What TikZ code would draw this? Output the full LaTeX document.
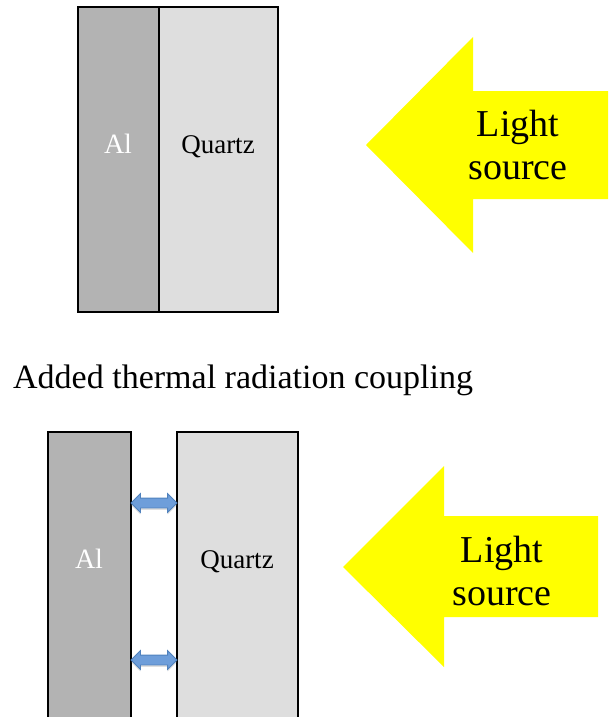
\documentclass[tikz,border=0pt]{standalone}
\usepackage{fontspec}
\setmainfont{Liberation Serif}
\usetikzlibrary{shapes.arrows,shadows}
\definecolor{alfill}{RGB}{179,179,179}
\definecolor{qzfill}{RGB}{222,222,222}
\definecolor{lightyel}{RGB}{255,255,0}
\definecolor{blfill}{RGB}{110,158,218}
\definecolor{bldraw}{RGB}{79,129,189}
\begin{document}
\begin{tikzpicture}[x=1pt,y=-1pt,
  alblock/.style={draw=black,line width=2pt,fill=alfill,inner sep=0pt},
  qzblock/.style={draw=black,line width=2pt,fill=qzfill,inner sep=0pt},
  yelarrow/.style={fill=lightyel,draw=none},
  biarrow/.style={double arrow,fill=blfill,draw=bldraw,line width=0.8pt,
    minimum height=46pt,minimum width=18pt,inner sep=4.5pt,
    double arrow head extend=4.5pt,
    drop shadow={opacity=0.25,shadow xshift=0pt,shadow yshift=-2pt}},
  altext/.style={font=\fontsize{28}{30}\selectfont,text=white,anchor=base},
  qztext/.style={font=\fontsize{27}{30}\selectfont,anchor=base},
  lstext/.style={font=\fontsize{38}{43}\selectfont,align=center,inner sep=0pt}]
\useasboundingbox (0,0) rectangle (608,717);
% top panel
\draw[alblock] (78,7) rectangle (159,312);
\draw[qzblock] (159,7) rectangle (278,312);
\node[altext] (al1) at (118,153) {Al};
\node[qztext] (q1) at (218,153) {Quartz};
\fill[yelarrow] (366,145) -- (473,37) -- (473,91) -- (608,91) -- (608,199) -- (473,199) -- (473,253) -- cycle;
\node[lstext] (ls1) at (518,145.5) {Light\\source};
% caption
\node[font=\fontsize{34}{40}\selectfont,anchor=base west,inner sep=0pt] (cap) at (13,388) {Added thermal radiation coupling};
% bottom panel
\fill[alfill] (48,432) rectangle (131,720);
\draw[alblock,fill=none] (48,724) -- (48,432) -- (131,432) -- (131,724);
\fill[qzfill] (177,432) rectangle (298,720);
\draw[qzblock,fill=none] (177,724) -- (177,432) -- (298,432) -- (298,724);
\node[altext] (al2) at (89,568) {Al};
\node[qztext] (q2) at (237,568) {Quartz};
\node[biarrow] (c1) at (154,503) {};
\node[biarrow] (c2) at (154,660) {};
\fill[yelarrow] (343,567) -- (444,466) -- (444,516) -- (598,516) -- (598,617) -- (444,617) -- (444,667) -- cycle;
\node[lstext] (ls2) at (502,571) {Light\\source};
\end{tikzpicture}
\end{document}
